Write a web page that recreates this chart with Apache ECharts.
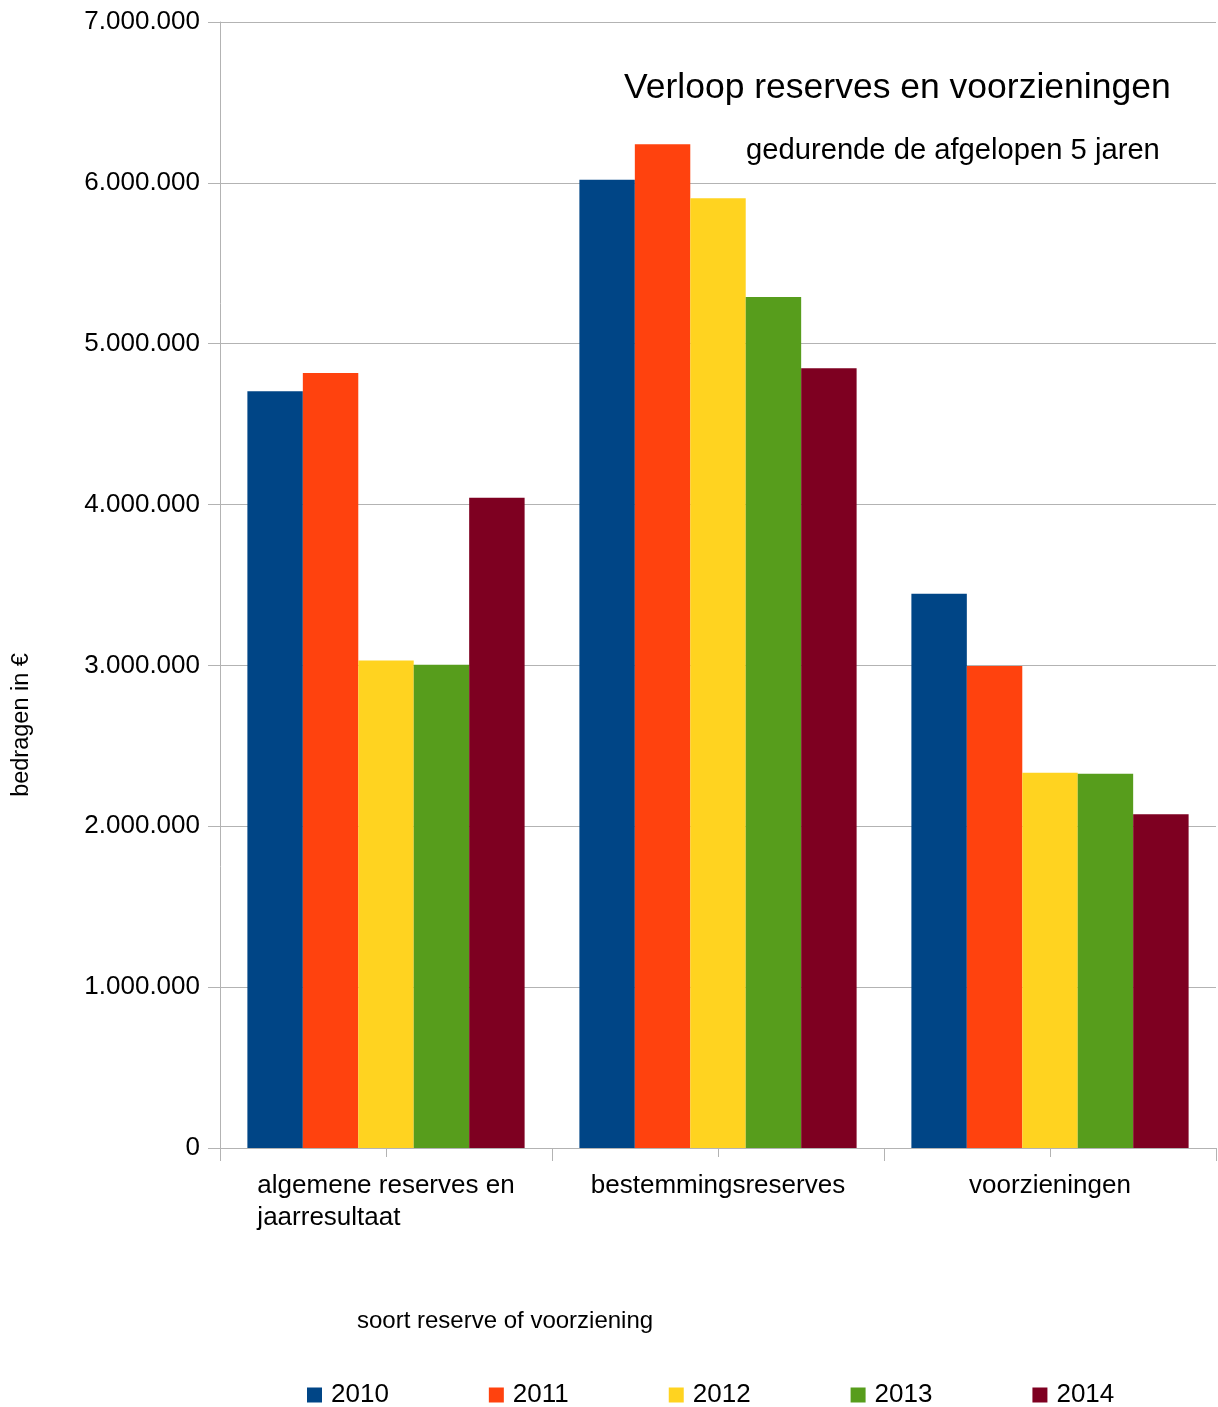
<!DOCTYPE html>
<html>
<head>
<meta charset="utf-8">
<script src="https://cdn.jsdelivr.net/npm/echarts@6/dist/echarts.min.js"></script>
<style>
  html, body { margin: 0; padding: 0; background: #fff; }
  #chart { width: 1218px; height: 1407px; }
</style>
</head>
<body>
<div id="chart"></div>
<script>
const categories = ['algemene reserves en\njaarresultaat', 'bestemmingsreserves', 'voorzieningen'];
const years = ['2010', '2011', '2012', '2013', '2014'];
const v2010 = [4705000, 6020000, 3445000];
const v2011 = [4818000, 6240000, 2997000];
const v2012 = [3030000, 5905000, 2333000];
const v2013 = [3004000, 5290000, 2326000];
const v2014 = [4042000, 4848000, 2075000];
const yTicks = { min: 0, max: 7000000, interval: 1000000 };
const titleText = 'Verloop reserves en voorzieningen';
const subtitleText = 'gedurende de afgelopen 5 jaren';
const yName = 'bedragen in €';
const xName = 'soort reserve of voorziening';

const colors = ['#004586', '#ff420e', '#ffd320', '#579d1c', '#7e0021'];
const seriesValues = [v2010, v2011, v2012, v2013, v2014];
const FONT = '"Liberation Sans", Arial, sans-serif';
const gridColor = '#b3b3b3';

function fmt(v) {
  return String(v).replace(/\B(?=(\d{3})+(?!\d))/g, '.');
}

const chart = echarts.init(document.getElementById('chart'), null, { renderer: 'canvas' });
chart.setOption({
  animation: false,
  backgroundColor: '#ffffff',
  color: colors,
  textStyle: { fontFamily: FONT },
  title: [
    { text: titleText, left: 619, top: 65,
      textStyle: { fontFamily: FONT, fontSize: 35.5, fontWeight: 'normal', color: '#000' } },
    { text: subtitleText, left: 741, top: 131,
      textStyle: { fontFamily: FONT, fontSize: 29.2, fontWeight: 'normal', color: '#000' } }
  ],
  legend: {
    data: years,
    left: 307,
    top: 1382,
    padding: 0,
    itemWidth: 15,
    itemHeight: 15,
    itemGap: 100,
    icon: 'rect',
    textStyle: { fontFamily: FONT, fontSize: 26, color: '#000', padding: [0, 0, 0, 4] }
  },
  grid: { left: 220, right: 2, top: 22, bottom: 259, containLabel: false },
  xAxis: [
    {
      type: 'category',
      data: categories,
      boundaryGap: true,
      axisLine: { show: true, lineStyle: { color: gridColor, width: 1 } },
      axisTick: { show: true, length: 13, interval: 0, lineStyle: { color: gridColor } },
      axisLabel: {
        interval: 0,
        margin: 22,
        color: '#000',
        fontFamily: FONT,
        fontSize: 26,
        lineHeight: 32,
        formatter: function (v) {
          return v.split('\n').map(function (s) { return '{a|' + s + '}'; }).join('\n');
        },
        rich: { a: { align: 'left', fontFamily: FONT, fontSize: 26, lineHeight: 32, color: '#000' } }
      },
      splitLine: { show: false }
    },
    {
      type: 'category',
      data: categories,
      position: 'bottom',
      boundaryGap: true,
      axisLine: { show: false },
      axisTick: { show: true, alignWithLabel: true, length: 9, interval: 0, lineStyle: { color: gridColor } },
      axisLabel: { show: false },
      splitLine: { show: false }
    }
  ],
  yAxis: {
    type: 'value',
    min: yTicks.min,
    max: yTicks.max,
    interval: yTicks.interval,
    axisLine: { show: true, lineStyle: { color: gridColor, width: 1 } },
    axisTick: { show: true, length: 12, lineStyle: { color: gridColor } },
    axisLabel: { margin: 20, color: '#000', fontFamily: FONT, fontSize: 26, formatter: fmt },
    splitLine: { show: true, lineStyle: { color: gridColor, width: 1 } }
  },
  graphic: [
    { type: 'text', x: 22, y: 725, rotation: Math.PI / 2,
      style: { text: yName, fontFamily: FONT, fontSize: 23.5, fill: '#000', textAlign: 'center', textVerticalAlign: 'middle' } },
    { type: 'text', x: 357, y: 1321,
      style: { text: xName, fontFamily: FONT, fontSize: 24, fill: '#000', textAlign: 'left', textVerticalAlign: 'middle' } }
  ],
  series: years.map(function (y, i) {
    return {
      name: y,
      type: 'bar',
      xAxisIndex: 0,
      data: seriesValues[i],
      barGap: '0%',
      barCategoryGap: '16.5%',
      itemStyle: { color: colors[i] }
    };
  })
});
</script>
</body>
</html>
